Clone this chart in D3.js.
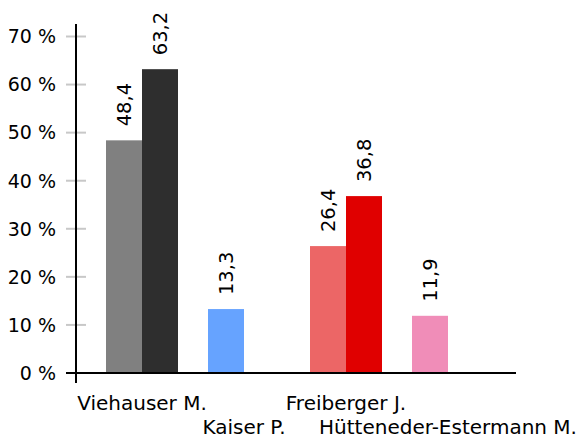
<!DOCTYPE html>
<html>
<head>
<meta charset="utf-8">
<script src="https://cdn.jsdelivr.net/npm/d3@7"></script>
<style>
  body { margin: 0; background: #fff; }
  text { font-family: "DejaVu Sans", sans-serif; fill: #000; }
</style>
</head>
<body>
<svg id="chart" width="586" height="439"></svg>
<script>
var candidates = ["Viehauser M.", "Kaiser P.", "Freiberger J.", "Hütteneder-Estermann M."];
var firstValues = [48.4, 13.3, 26.4, 11.9];
var secondValues = [63.2, null, 36.8, null];
var firstColors = ["#808080", "#66a3ff", "#ec6666", "#f08db8"];
var secondColors = ["#2e2e2e", null, "#e00000", null];
var yTicks = [0, 10, 20, 30, 40, 50, 60, 70];

var svg = d3.select("#chart");

var x = d3.scaleBand()
    .domain(candidates)
    .range([91, 499]);
var barWidth = 36;

var y = d3.scaleLinear()
    .domain([0, 70])
    .range([373, 36.5]);

// tick marks
svg.append("g")
  .selectAll("line")
  .data(yTicks.slice(1))
  .enter().append("line")
    .attr("x1", 66).attr("x2", 86)
    .attr("y1", function(d){ return y(d); })
    .attr("y2", function(d){ return y(d); })
    .style("stroke", "#c8c8c8")
    .style("stroke-width", 2);

svg.append("g")
  .selectAll("text")
  .data(yTicks)
  .enter().append("text")
    .attr("x", 56)
    .attr("y", function(d){ return y(d); })
    .attr("dy", "0.36em")
    .attr("text-anchor", "end")
    .style("font-size", "19px")
    .text(function(d){ return d + " %"; });

var bars = [];
candidates.forEach(function(c, i){
    var center = x(c) + x.bandwidth() / 2;
    bars.push({x: center - barWidth, v: firstValues[i], color: firstColors[i]});
    if (secondValues[i] != null) {
        bars.push({x: center, v: secondValues[i], color: secondColors[i]});
    }
});

svg.append("g")
  .selectAll("rect")
  .data(bars)
  .enter().append("rect")
    .attr("x", function(d){ return d.x; })
    .attr("y", function(d){ return y(d.v); })
    .attr("width", barWidth)
    .attr("height", function(d){ return y(0) - y(d.v); })
    .style("fill", function(d){ return d.color; });

svg.append("g")
  .selectAll("text")
  .data(bars)
  .enter().append("text")
    .attr("transform", function(d){
        return "translate(" + (d.x + barWidth / 2) + "," + (y(d.v) - 14) + ") rotate(-90)";
    })
    .attr("dy", "0.36em")
    .style("font-size", "19.5px")
    .text(function(d){ return String(d.v).replace(".", ","); });

// axes
svg.append("line")
    .attr("x1", 76).attr("x2", 76)
    .attr("y1", 24).attr("y2", 383)
    .style("stroke", "#000").style("stroke-width", 2);
svg.append("line")
    .attr("x1", 66).attr("x2", 516)
    .attr("y1", y(0)).attr("y2", y(0))
    .style("stroke", "#000").style("stroke-width", 2);

svg.append("g")
  .selectAll("text")
  .data(candidates)
  .enter().append("text")
    .attr("x", function(d){ return x(d) + x.bandwidth() / 2; })
    .attr("y", function(d, i){ return i % 2 ? 434 : 410; })
    .attr("text-anchor", "middle")
    .style("font-size", "20px")
    .text(function(d){ return d; });
</script>
</body>
</html>
